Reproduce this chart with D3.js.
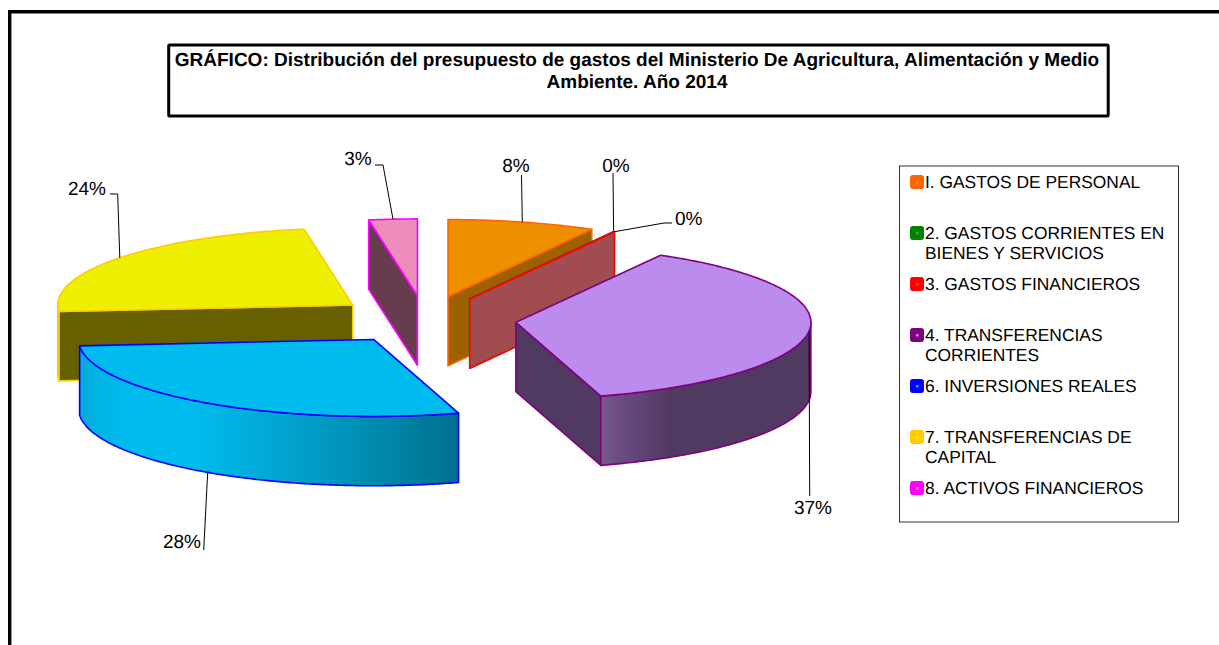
<!DOCTYPE html>
<html><head><meta charset="utf-8">
<script src="https://cdn.jsdelivr.net/npm/d3@7/dist/d3.min.js"></script>
<style>html,body{margin:0;padding:0;background:#fff}svg{display:block}text{font-family:"Liberation Sans",Arial,sans-serif;fill:#000;text-rendering:geometricPrecision}</style>
</head><body><svg id="c" width="1219" height="645"></svg>
<script>
const titleLines = ["GRÁFICO: Distribución del presupuesto de gastos del Ministerio De Agricultura, Alimentación y Medio","Ambiente. Año 2014"];
const categories = ["I. GASTOS DE PERSONAL","2. GASTOS CORRIENTES EN BIENES Y SERVICIOS","3. GASTOS FINANCIEROS","4. TRANSFERENCIAS CORRIENTES","6. INVERSIONES REALES","7. TRANSFERENCIAS DE CAPITAL","8. ACTIVOS FINANCIEROS"];
const legendLines = [["I. GASTOS DE PERSONAL"],["2. GASTOS CORRIENTES EN","BIENES Y SERVICIOS"],["3. GASTOS FINANCIEROS"],["4. TRANSFERENCIAS","CORRIENTES"],["6. INVERSIONES REALES"],["7. TRANSFERENCIAS DE","CAPITAL"],["8. ACTIVOS FINANCIEROS"]];
const values = [8.1,0.03,0.03,37.19,28.31,23.7,2.64];
const strokeColors = ["#FF6600","#008000","#FF0000","#800080","#0000FF","#FFCC00","#FF00FF"];
const topColors = ["#EE8F00","#4F9A4F","#EE4040","#BB8CEE","#00BCEE","#EEEE00","#EE8CBB"];
const wallColors = ["#9F6000","#4F6B4F","#A04C50","#513A62","#00BCEE","#666000","#673C4F"];
// leader-line layout: label anchor, text anchor, bend
const leaders = [
 {tx:516,ty:172,a:"middle",pts:[[521.5,175]]},
 {tx:616,ty:172,a:"middle",pts:[[613,173]]},
 {tx:675,ty:225,a:"start",pts:[[672,223],[664,223]]},
 {tx:813,ty:514,a:"middle",pts:[[809.7,496]]},
 {tx:182,ty:548,a:"middle",pts:[[203.7,550]]},
 {tx:87,ty:195,a:"middle",pts:[[110,194],[117.7,194]]},
 {tx:358,ty:165,a:"middle",pts:[[375,165],[383,165]]}
];
const CX=425, CY=319.7, RX=295, RY=77, DEPTH=69.3, EXPLODE=0.31;
const sx=d3.scaleLinear().domain([-1,1]).range([CX-RX,CX+RX]);
const sy=d3.scaleLinear().domain([-1,1]).range([CY-RY,CY+RY]);
const svg=d3.select("#c");
const defs=svg.append("defs");
const blueG=defs.append("linearGradient").attr("id","gBlue").attr("gradientUnits","userSpaceOnUse").attr("x1",78).attr("x2",459).attr("y1",0).attr("y2",0);
[[0,"#08A8D8"],[0.06,"#00B4E4"],[0.13,"#00BCEE"],[0.3,"#00BCEE"],[0.55,"#00A4CF"],[0.8,"#0088AC"],[1,"#006F8C"]].forEach(s=>blueG.append("stop").attr("offset",s[0]).attr("stop-color",s[1]));
const purG=defs.append("linearGradient").attr("id","gPur").attr("gradientUnits","userSpaceOnUse").attr("x1",601).attr("x2",811).attr("y1",0).attr("y2",0);
[[0,"#78588F"],[0.12,"#68497F"],[0.33,"#513A62"],[1,"#513A62"]].forEach(s=>purG.append("stop").attr("offset",s[0]).attr("stop-color",s[1]));

// frame
svg.append("path").attr("d","M9.7,645V11.7H1219").attr("fill","none").attr("stroke","#000").attr("stroke-width",3.4);
// title box
svg.append("rect").attr("x",168.7).attr("y",45).attr("width",939.5).attr("height",71).attr("fill","#fff").attr("stroke","#000").attr("stroke-width",3).attr("rx",1);
svg.append("g").selectAll("text").data(titleLines).join("text").attr("x",637).attr("y",(d,i)=>66+i*22).attr("text-anchor","middle").attr("font-weight","bold").attr("font-size",19).text(d=>d);

const pie=d3.pie().sort(null).startAngle(0).endAngle(2*Math.PI).value(d=>d);
const arcs=pie(values);
const line=d3.line();
function rim(d,a,dep=0){
  const m=(d.startAngle+d.endAngle)/2;
  return [sx(EXPLODE*Math.sin(m)+Math.sin(a)), sy(-EXPLODE*Math.cos(m)-Math.cos(a))+dep];
}
function apex(d,dep=0){
  const m=(d.startAngle+d.endAngle)/2;
  return [sx(EXPLODE*Math.sin(m)), sy(-EXPLODE*Math.cos(m))+dep];
}
function sweep(d,a0,a1,dep=0){
  const n=Math.max(2,Math.ceil((a1-a0)/0.01));
  return d3.range(n+1).map(i=>rim(d,a0+(a1-a0)*i/n,dep));
}
function radialFace(d,a){return [apex(d),rim(d,a),rim(d,a,DEPTH),apex(d,DEPTH)];}
const order=[0,1,2,6,5,4,3];
const g=svg.append("g").attr("stroke-linejoin","round");
order.forEach(i=>{
  const d=arcs[i], s=g.append("g").attr("stroke",strokeColors[i]).attr("stroke-width",1.6);
  const a0=d.startAngle,a1=d.endAngle;
  if(Math.sin(a0)<-1e-6) s.append("path").attr("d",line(radialFace(d,a0))+"Z").attr("fill",wallColors[i]);
  if(Math.sin(a1)>1e-6) s.append("path").attr("d",line(radialFace(d,a1))+"Z").attr("fill",wallColors[i]);
  const w0=Math.max(a0,Math.PI/2), w1=Math.min(a1,Math.PI*1.5);
  if(w1>w0){
    const fill=i===4?"url(#gBlue)":i===3?"url(#gPur)":wallColors[i];
    s.append("path").attr("d",line(sweep(d,w0,w1).concat(sweep(d,w0,w1,DEPTH).reverse()))+"Z").attr("fill",fill);
  }
  s.append("path").attr("d",line([apex(d)].concat(sweep(d,a0,a1)))+"Z").attr("fill",topColors[i]);
});

// leaders
const lg=svg.append("g");
arcs.forEach((d,i)=>{
  const L=leaders[i], m=(d.startAngle+d.endAngle)/2;
  const end=rim(d,m,(Math.cos(m)<0&&i!==3)?DEPTH:0);
  lg.append("path").attr("d",line(L.pts.concat([end]))).attr("fill","none").attr("stroke","#000").attr("stroke-width",1);
  lg.append("text").attr("x",L.tx).attr("y",L.ty).attr("text-anchor",L.a).attr("font-size",19).text(d3.format(".0f")(d.value)+"%");
});

// legend
svg.append("rect").attr("x",899.5).attr("y",166).attr("width",279).attr("height",356).attr("fill","#fff").attr("stroke","#333").attr("stroke-width",1);
const leg=svg.append("g");
categories.forEach((c,i)=>{
  const y=182+i*51;
  leg.append("rect").attr("x",910.5).attr("y",y-6.5).attr("width",13).attr("height",13).attr("rx",2).attr("fill",strokeColors[i]).attr("stroke",strokeColors[i]).attr("stroke-width",1);
  leg.append("rect").attr("x",916).attr("y",y-1).attr("width",2.5).attr("height",2.5).attr("fill",topColors[i]);
  legendLines[i].forEach((t,j)=>leg.append("text").attr("x",925).attr("y",y+6+j*20).attr("font-size",17.4).text(t));
});
</script></body></html>
